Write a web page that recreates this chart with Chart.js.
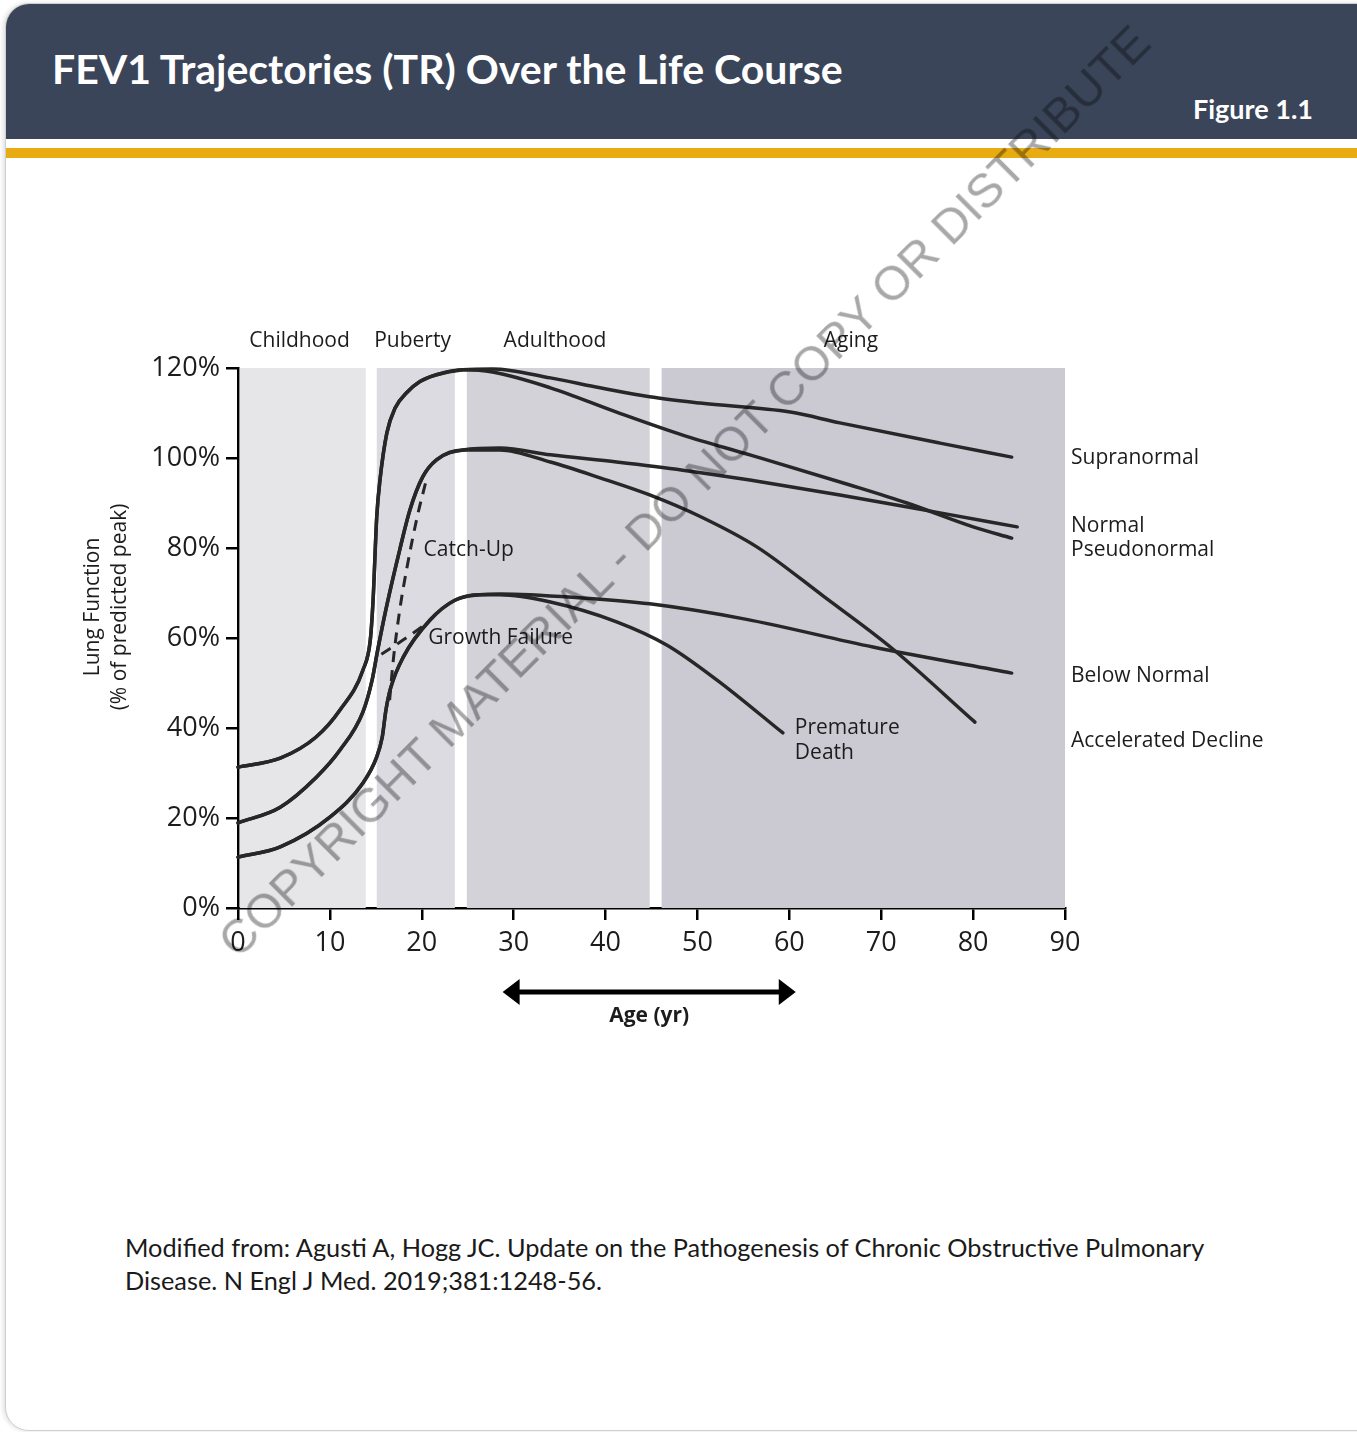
<!DOCTYPE html>
<html>
<head>
<meta charset="utf-8">
<script src="https://cdn.jsdelivr.net/npm/chart.js@4.4.0/dist/chart.umd.min.js"></script>
<style>
  body { margin: 0; width: 1357px; height: 1432px; position: relative; overflow: hidden; background: #fff; }
  #card { position: absolute; left: 5px; top: 3px; width: 1400px; height: 1426px; border: 1px solid #cfcfcf;
          border-radius: 24px; overflow: hidden; background: #fff; box-shadow: -2px 0 4px rgba(0,0,0,0.12); }
  #head { position: absolute; left: 0; top: 0; width: 100%; height: 135px; background: #3a4559; }
  #titulo { position: absolute; left: 46px; top: 40px; font: bold 41px Lato; color: #fff; white-space: nowrap; }
  #fig { position: absolute; left: 1187px; top: 88px; font: bold 27px Lato; color: #fff; white-space: nowrap; }
  #oro { position: absolute; left: 0; top: 144px; width: 100%; height: 10px; background: #e8ac12; }
  #nota { position: absolute; left: 125px; top: 1231px; font: 25.3px Lato; line-height: 33px; color: #1a1a1a; }
  #grafico { position: absolute; left: 0; top: 170px; }
  #wm { position: absolute; left: 244px; top: 918px; font: 48px "Liberation Sans"; line-height: 48px; color: rgba(0,0,0,0.34);
        white-space: nowrap; transform-origin: 0 100%; transform: rotate(-45deg); pointer-events: none; }
</style>
</head>
<body>
<div id="card">
  <div id="head">
    <div id="titulo">FEV1 Trajectories (TR) Over the Life Course</div>
    <div id="fig">Figure 1.1</div>
  </div>
  <div id="oro"></div>
</div>
<canvas id="grafico" width="1357" height="900"></canvas>
<div id="nota">Modified from: Agusti A, Hogg JC. Update on the Pathogenesis of Chronic Obstructive Pulmonary<br>Disease. N Engl J Med. 2019;381:1248-56.</div>
<div id="wm">COPYRIGHT MATERIAL - DO NOT COPY OR DISTRIBUTE</div>

<script>
// Etapas de la vida (edad en años)
const etapas = ['Childhood', 'Puberty', 'Adulthood', 'Aging'];
const etapaDesde = [0.2, 15.1, 24.9, 46.1];
const etapaHasta = [13.9, 23.6, 44.8, 90];
const etapaEtiqueta = [6.7, 19.0, 34.5, 66.7];

// Tramo de subida compartido (edad, % del pico)
const altoEdad = [0, 4.6, 8.5, 11.1, 13.6, 14.4, 14.7, 15.1, 15.45, 16.2, 17.1, 18.4, 19.8, 21.6, 24.5];
const altoPct  = [31.3, 33.3, 38.0, 44.0, 52.9, 59.6, 68.4, 87.0, 95.1, 105.6, 111.1, 114.6, 117.0, 118.5, 119.6];
const medioEdad = [0, 4.6, 8.5, 11.1, 13.6, 14.6, 15.2, 16.2, 17.6, 18.7, 20.1, 21.6, 24.5];
const medioPct  = [18.9, 22.4, 29.0, 35.1, 43.6, 50.7, 57.3, 67.3, 79.6, 88.4, 95.8, 99.6, 101.8];
const bajoEdad = [0, 4.6, 10.0, 13.6, 15.1, 15.7, 16.1, 16.6, 18.0, 20.9, 23.6, 26.3];
const bajoPct  = [11.3, 13.6, 20.2, 27.8, 33.6, 38.0, 44.0, 48.8, 55.8, 64.0, 68.4, 69.6];

// Tramos finales de cada trayectoria
const supraEdad = [27.7, 34.0, 39.4, 44.8, 50.3, 60.1, 65.5, 76.4, 84.2];
const supraPct  = [119.8, 117.8, 115.6, 113.6, 112.2, 110.2, 107.8, 103.3, 100.2];
const pseudoEdad = [27.7, 34.0, 41.2, 48.4, 55.7, 66.6, 72.8, 80.0, 84.2];
const pseudoPct  = [119.1, 115.6, 110.2, 105.1, 100.7, 94.0, 90.0, 84.7, 82.2];
const normalEdad = [28.5, 34.0, 41.2, 48.4, 55.7, 65.5, 76.4, 84.8];
const normalPct  = [102.2, 100.7, 99.1, 97.3, 95.1, 91.8, 87.8, 84.7];
const aceleradoEdad = [28.5, 34.0, 39.4, 44.8, 50.3, 56.5, 63.7, 71.0, 80.2];
const aceleradoPct  = [101.8, 99.1, 95.6, 91.8, 87.0, 80.2, 69.3, 58.0, 41.3];
const debajoEdad = [28.5, 37.5, 44.8, 55.2, 69.1, 84.2];
const debajoPct  = [69.8, 68.9, 67.6, 64.2, 58.0, 52.2];
const prematuraEdad = [28.5, 34.0, 41.2, 46.7, 52.1, 59.3];
const prematuraPct  = [69.6, 68.0, 63.6, 58.4, 50.7, 38.9];

// Líneas discontinuas
const recuperaEdad = [16.5, 16.9, 17.6, 18.4, 19.5, 20.4];
const recuperaPct  = [46.2, 55.1, 66.2, 75.8, 86.9, 94.4];
const fallaEdad = [15.6, 18.0, 20.3];
const fallaPct  = [56.4, 59.6, 62.9];

// Etiquetas de las trayectorias (a la derecha)
const nombres = ['Supranormal', 'Normal', 'Pseudonormal', 'Below Normal', 'Accelerated Decline'];
const nombresPct = [100, 84.9, 79.6, 51.6, 37.1];

const xTicks = [0, 10, 20, 30, 40, 50, 60, 70, 80, 90];
const yTicks = [0, 20, 40, 60, 80, 100, 120];

const coloresEtapa = ['#e6e6e9', '#dcdbe1', '#d3d2d9', '#cbcad3'];
const tinta = '#1c1c1c';
const linea = '#272727';

function pts(xs, ys) { return xs.map((x, i) => ({ x: x, y: ys[i] })); }

function curva(xs, ys, dash) {
  return {
    data: pts(xs, ys),
    borderColor: linea,
    borderWidth: dash ? 3 : 3.5,
    borderDash: dash ? [11, 8] : [],
    borderCapStyle: dash ? 'butt' : 'round',
    borderJoinStyle: 'round',
    pointRadius: 0,
    fill: false,
    clip: false,
    cubicInterpolationMode: 'monotone'
  };
}

const fondo = {
  id: 'fondo',
  beforeDatasetsDraw(chart) {
    const { ctx, scales: { x, y } } = chart;
    ctx.save();
    etapas.forEach((e, i) => {
      const x0 = x.getPixelForValue(etapaDesde[i]);
      const x1 = x.getPixelForValue(etapaHasta[i]);
      const y0 = y.getPixelForValue(120);
      const y1 = y.getPixelForValue(0);
      ctx.fillStyle = coloresEtapa[i];
      ctx.fillRect(x0, y0, x1 - x0, y1 - y0);
    });
    ctx.restore();
  }
};

const textos = {
  id: 'textos',
  afterDatasetsDraw(chart) {
    const { ctx, chartArea, scales: { x, y } } = chart;
    ctx.save();
    ctx.fillStyle = tinta;
    ctx.font = '21px "Open Sans"';
    ctx.textBaseline = 'middle';

    // Etapas arriba
    ctx.textAlign = 'center';
    etapas.forEach((e, i) => ctx.fillText(e, x.getPixelForValue(etapaEtiqueta[i]), chartArea.top - 27));

    // Nombres a la derecha
    ctx.textAlign = 'left';
    nombres.forEach((n, i) => ctx.fillText(n, chartArea.right + 6, y.getPixelForValue(nombresPct[i])));

    // Etiquetas internas
    ctx.fillText('Catch-Up', x.getPixelForValue(20.2), y.getPixelForValue(79.6));
    ctx.fillText('Growth Failure', x.getPixelForValue(20.7), y.getPixelForValue(60.0));
    ctx.fillText('Premature', x.getPixelForValue(60.6), y.getPixelForValue(40.0));
    ctx.fillText('Death', x.getPixelForValue(60.6), y.getPixelForValue(34.4));

    // Título del eje Y
    ctx.save();
    ctx.translate(93, chartArea.top + 239);
    ctx.rotate(-Math.PI / 2);
    ctx.textAlign = 'center';
    ctx.fillText('Lung Function', 0, 0);
    ctx.fillText('(% of predicted peak)', 0, 27);
    ctx.restore();

    // Flecha de edad
    const ax0 = x.getPixelForValue(28.8), ax1 = x.getPixelForValue(60.7);
    const ay = chartArea.bottom + 84;
    ctx.strokeStyle = '#000';
    ctx.fillStyle = '#000';
    ctx.lineWidth = 5;
    ctx.beginPath();
    ctx.moveTo(ax0 + 10, ay);
    ctx.lineTo(ax1 - 10, ay);
    ctx.stroke();
    ctx.beginPath();
    ctx.moveTo(ax0, ay); ctx.lineTo(ax0 + 17, ay - 13); ctx.lineTo(ax0 + 17, ay + 13); ctx.closePath();
    ctx.moveTo(ax1, ay); ctx.lineTo(ax1 - 17, ay - 13); ctx.lineTo(ax1 - 17, ay + 13); ctx.closePath();
    ctx.fill();
    ctx.font = 'bold 21px "Open Sans"';
    ctx.textAlign = 'center';
    ctx.fillStyle = tinta;
    ctx.fillText('Age (yr)', (ax0 + ax1) / 2, ay + 24);
    ctx.restore();
  }
};

const ejeComun = {
  type: 'linear',
  border: { color: '#000', width: 2.5 },
  grid: { drawOnChartArea: false, drawTicks: true, tickLength: 12, color: '#000', lineWidth: 2.5 }
};

new Chart(document.getElementById('grafico'), {
  type: 'line',
  data: {
    datasets: [
      curva(altoEdad.concat(supraEdad), altoPct.concat(supraPct)),
      curva(altoEdad.concat(pseudoEdad), altoPct.concat(pseudoPct)),
      curva(medioEdad.concat(normalEdad), medioPct.concat(normalPct)),
      curva(medioEdad.concat(aceleradoEdad), medioPct.concat(aceleradoPct)),
      curva(bajoEdad.concat(debajoEdad), bajoPct.concat(debajoPct)),
      curva(bajoEdad.concat(prematuraEdad), bajoPct.concat(prematuraPct)),
      curva(recuperaEdad, recuperaPct, true),
      curva(fallaEdad, fallaPct, true)
    ]
  },
  options: {
    responsive: false,
    animation: false,
    layout: { padding: { left: 0, right: 292, top: 198, bottom: 102 } },
    plugins: { legend: { display: false }, tooltip: { enabled: false } },
    scales: {
      x: Object.assign({}, ejeComun, {
        min: 0, max: 90,
        afterBuildTicks: s => { s.ticks = xTicks.map(v => ({ value: v })); },
        afterFit: s => { s.height = 60; },
        ticks: { color: tinta, font: { family: 'Open Sans', size: 27 }, padding: 7, maxRotation: 0 }
      }),
      y: Object.assign({}, ejeComun, {
        min: 0, max: 120,
        afterBuildTicks: s => { s.ticks = yTicks.map(v => ({ value: v })); },
        afterFit: s => { s.width = 238; },
        ticks: { color: tinta, font: { family: 'Open Sans', size: 27 }, padding: 6, callback: v => v + '%' }
      })
    }
  },
  plugins: [fondo, textos]
});
</script>
</body>
</html>
